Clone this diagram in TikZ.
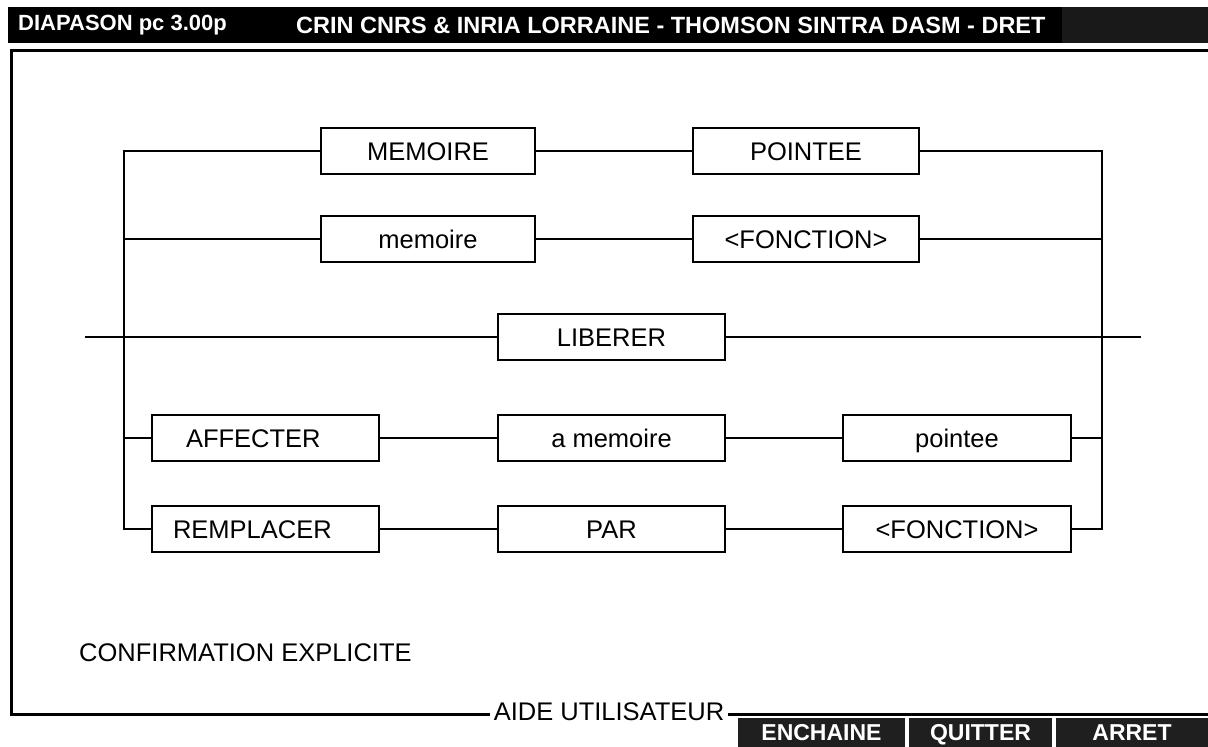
\documentclass[tikz,border=0pt]{standalone}
\usepackage{fontspec}
\setmainfont{Liberation Sans}
\newcommand{\dBody}{\fontsize{25.5}{30}\selectfont}
\newcommand{\dBtn}{\fontsize{23}{27}\selectfont\bfseries}
\newcommand{\dHdrA}{\fontsize{22}{27}\selectfont\bfseries}
\newcommand{\dHdrB}{\fontsize{23.5}{27}\selectfont\bfseries}
\begin{document}
\begin{tikzpicture}[x=1pt,y=-1pt,
  lw/.style={line width=2.6pt},
  box/.style={draw, lw, minimum height=46pt, inner sep=0pt, font=\dBody,
    text height=18.3pt, text depth=0pt},
  conn/.style={lw, line cap=rect},
  frameline/.style={line width=3pt, line cap=rect},
  btn/.style={fill=black!88, text=white, font=\dBtn, minimum height=29pt, inner sep=0pt,
    text height=16.5pt, text depth=0pt},
  hdr/.style={text=white, inner sep=0pt, anchor=west},
  plain/.style={font=\dBody, inner sep=0pt}]
\useasboundingbox (0,0) rectangle (1208,747);
% header bar
\node[fill=black, minimum width=1200pt, minimum height=36pt, inner sep=0pt, anchor=north west] (bar) at (8,7) {};
\fill[black!90] (1062,7) rectangle (1208,43);
\node[hdr, font=\dHdrA] (hd1) at (18,25) {DIAPASON pc 3.00p};
\node[hdr, font=\dHdrB] (hd2) at (296,25) {CRIN CNRS \& INRIA LORRAINE - THOMSON SINTRA DASM - DRET};
% frame
\coordinate (ftl) at (11,50);
\coordinate (ftr) at (1208,50);
\coordinate (fbl) at (11,714);
\coordinate (fbr) at (1208,714);
\node[plain, inner xsep=5pt] (aide) at (609,712) {AIDE UTILISATEUR};
\draw[frameline] (ftr) -- (ftl) -- (fbl) -- (fbl -| aide.west);
\draw[frameline] (aide.east |- fbr) -- (fbr);
% buttons
\node[btn, minimum width=167pt] (b1) at (821.5,732.5) {ENCHAINE};
\node[btn, minimum width=143pt] (b2) at (980.5,732.5) {QUITTER};
\node[btn, minimum width=152pt] (b3) at (1132,732.5) {ARRET};
% boxes
\node[box, minimum width=214pt] (MEM) at (428,151) {MEMOIRE};
\node[box, minimum width=226pt] (POI) at (806,151) {POINTEE};
\node[box, minimum width=214pt] (mem) at (428,239) {memoire};
\node[box, minimum width=226pt] (FON1) at (806,239) {<FONCTION>};
\node[box, minimum width=227pt] (LIB) at (611.5,337) {LIBERER};
\node[box, text width=159pt, inner xsep=34pt, align=left] (AFF) at (265.5,438) {AFFECTER};
\node[box, minimum width=227pt] (AMEM) at (611.5,438) {a memoire};
\node[box, minimum width=228pt] (PTE) at (957,438) {pointee};
\node[box, text width=185pt, inner xsep=21pt, align=left] (REM) at (265.5,529) {REMPLACER};
\node[box, minimum width=227pt] (PAR) at (611.5,529) {PAR};
\node[box, minimum width=228pt] (FON2) at (957,529) {<FONCTION>};
% rail coordinates
\coordinate (L1) at (124,151);
\coordinate (L2) at (124,239);
\coordinate (L4) at (124,438);
\coordinate (L5) at (124,529);
\coordinate (R1) at (1102,151);
\coordinate (R2) at (1102,239);
\coordinate (R4) at (1102,438);
\coordinate (R5) at (1102,529);
\coordinate (LA) at (86,337);
\coordinate (RA) at (1140,337);
% connectors
\draw[conn] (MEM.west) -- (L1) -- (L5) -- (REM.west);
\draw[conn] (POI.east) -- (R1) -- (R5) -- (FON2.east);
\draw[conn] (L2) -- (mem.west);
\draw[conn] (L4) -- (AFF.west);
\draw[conn] (MEM.east) -- (POI.west);
\draw[conn] (mem.east) -- (FON1.west);
\draw[conn] (FON1.east) -- (R2);
\draw[conn] (LA) -- (LIB.west);
\draw[conn] (LIB.east) -- (RA);
\draw[conn] (AFF.east) -- (AMEM.west);
\draw[conn] (AMEM.east) -- (PTE.west);
\draw[conn] (PTE.east) -- (R4);
\draw[conn] (REM.east) -- (PAR.west);
\draw[conn] (PAR.east) -- (FON2.west);
% note
\node[plain, anchor=west] (conf) at (79,653) {CONFIRMATION EXPLICITE};
\end{tikzpicture}
\end{document}
